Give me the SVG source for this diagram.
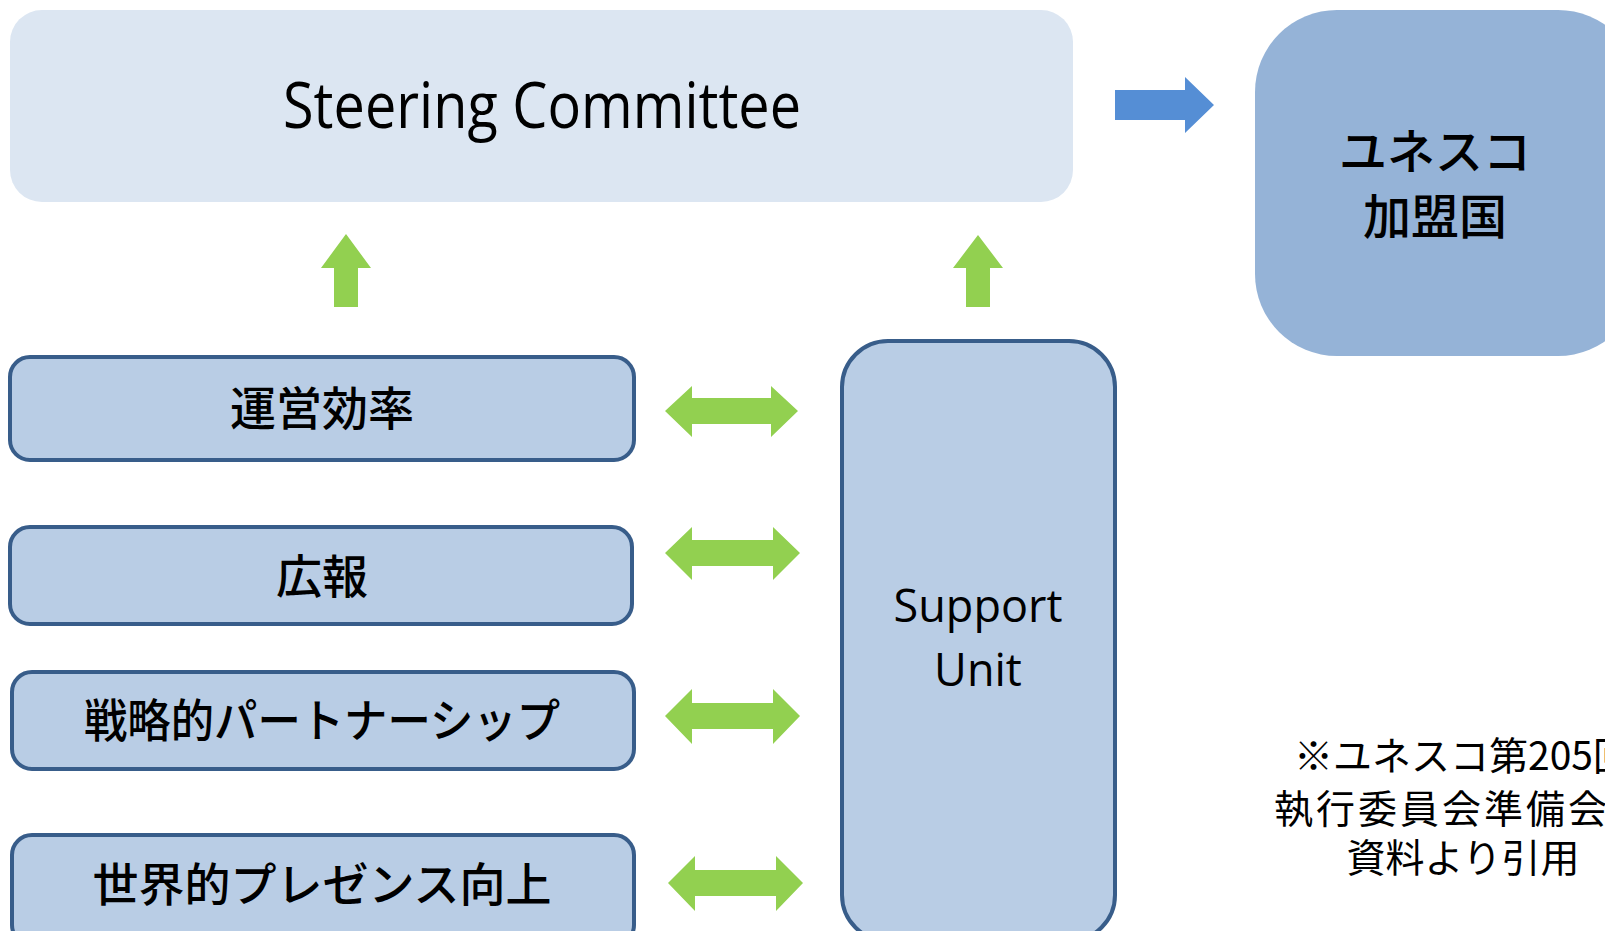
<svg xmlns="http://www.w3.org/2000/svg" width="1605" height="931" viewBox="0 0 1605 931">
<style>
.jp{font-family:"Noto Sans CJK JP","Noto Sans",sans-serif;fill:#000;text-anchor:middle}
.en{font-family:"Open Sans","Liberation Sans",sans-serif;fill:#000;text-anchor:middle}
.item{fill:#B9CDE5;stroke:#385D8A;stroke-width:4}
.g{fill:#92D050}
.lbl{font-size:46px;font-weight:500}
.note{font-size:39px}
</style>
<rect width="1605" height="931" fill="#fff"/>
<g id="steering">
<rect x="10" y="10" width="1063" height="192" rx="32" fill="#DCE6F2"/>
<text class="en" x="542" y="128" font-size="64" textLength="518" lengthAdjust="spacingAndGlyphs">Steering Committee</text>
</g>
<g id="unesco">
<rect x="1255" y="10" width="385" height="346" rx="82" fill="#95B3D7"/>
<text class="jp" x="1435" y="169" font-size="48" font-weight="500">ユネスコ</text>
<text class="jp" x="1435" y="234" font-size="48" font-weight="500">加盟国</text>
</g>
<g id="item1">
<rect class="item" x="10" y="357" width="624" height="103" rx="20"/>
<text class="jp lbl" x="322" y="425">運営効率</text>
</g>
<g id="item2">
<rect class="item" x="10" y="527" width="622" height="97" rx="20"/>
<text class="jp lbl" x="322" y="593">広報</text>
</g>
<g id="item3">
<rect class="item" x="12" y="672" width="622" height="97" rx="20"/>
<text class="jp lbl" x="322" y="737" textLength="476" lengthAdjust="spacingAndGlyphs">戦略的パートナーシップ</text>
</g>
<g id="item4">
<rect class="item" x="12" y="835" width="622" height="110" rx="20"/>
<text class="jp lbl" x="322" y="901">世界的プレゼンス向上</text>
</g>
<g id="support">
<rect class="item" x="842" y="341" width="273" height="600" rx="46"/>
<text class="en" x="978" y="622" font-size="45">Support</text>
<text class="en" x="978" y="686" font-size="45">Unit</text>
</g>
<g id="note">
<text class="jp note" x="1463" y="770">※ユネスコ第205回</text>
<text class="jp note" x="1463" y="823" letter-spacing="3">執行委員会準備会合</text>
<text class="jp note" x="1463" y="872">資料より引用</text>
</g>
<g id="connectors">
<polygon fill="#558ED5" points="1115,90 1185,90 1185,77 1214,105 1185,133 1185,120 1115,120"/>
<polygon class="g" points="334,307 334,268 321,268 346,234 371,268 358,268 358,307"/>
<polygon class="g" points="966,307 966,268 953,268 978,235 1003,268 990,268 990,307"/>
<polygon class="g" points="665,411 692,386 692,398 771,398 771,386 798,411 771,437 771,424 692,424 692,437"/>
<polygon class="g" points="665,553 692,527 692,540 773,540 773,527 800,553 773,580 773,566 692,566 692,580"/>
<polygon class="g" points="665,716 692,689 692,703 773,703 773,689 800,716 773,744 773,729 692,729 692,744"/>
<polygon class="g" points="668,883 695,856 695,870 776,870 776,856 803,883 776,911 776,896 695,896 695,911"/>
</g>
</svg>
